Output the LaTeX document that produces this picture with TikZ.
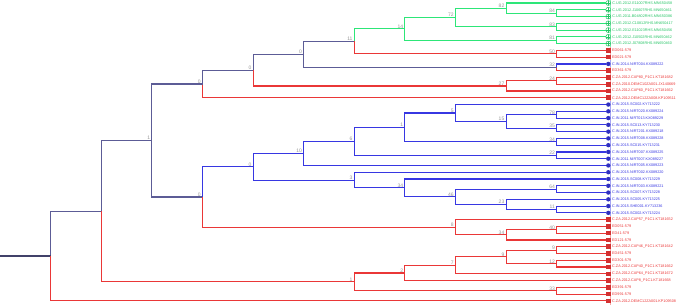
\documentclass[tikz,border=0pt]{standalone}
\usepackage{fontspec}
\setsansfont{Liberation Sans}
\definecolor{CladoVerde}{RGB}{45,230,120}
\definecolor{CladoRojo}{RGB}{234,55,55}
\definecolor{CladoAzul}{RGB}{55,55,226}
\definecolor{CladoMixto}{RGB}{92,92,150}
\definecolor{Soporte}{RGB}{150,150,150}

\begin{document}
\begin{tikzpicture}[
        x=1pt, y=-1pt,
        rama/.style={line width=1.15pt},
        guia/.style={line width=0.9pt},
        soporte/.style={font=\sffamily\fontsize{5}{5.5}\selectfont, text=Soporte, inner sep=0.4pt, xshift=-1.2pt},
        interno/.style={coordinate, label={[soporte]above left:#1}},
        hoja/.style={font=\sffamily\fontsize{3.75}{4}\selectfont, inner sep=1.2pt},
        hojaverde/.style={
            circle, draw=CladoVerde!85!black, fill=white, line width=0.5pt,
            minimum size=5pt, inner sep=0pt,
            path picture={\draw[CladoVerde!85!black, line width=0.5pt]
                (path picture bounding box.north) -- (path picture bounding box.south)
                (path picture bounding box.west) -- (path picture bounding box.east);},
            label={[hoja, text=CladoVerde!85!black]right:#1}
        },
        hojaazul/.style={circle, fill=CladoAzul!85!black, minimum size=4.4pt, inner sep=0pt,
            label={[hoja, text=CladoAzul]right:#1}},
        hojaroja/.style={rectangle, fill=CladoRojo!90!black, minimum size=4.6pt, inner sep=0pt,
            label={[hoja, text=CladoRojo]right:#1}}
    ]
    \useasboundingbox (0,0) rectangle (677,305);

    % Barras de las puntas
    \draw[guia, CladoVerde!55] (610.7,0) -- (610.7,47);
    \draw[guia, CladoRojo!45] (610.7,47) -- (610.7,60.5);
    \draw[guia, CladoAzul!45] (610.7,60.5) -- (610.7,67.3);
    \draw[guia, CladoRojo!45] (610.7,67.3) -- (610.7,101.2);
    \draw[guia, CladoAzul!45] (610.7,101.2) -- (610.7,216.3);
    \draw[guia, CladoRojo!45] (610.7,216.3) -- (610.7,305);

    % Hojas
    \node[hojaverde={C.UG.2012.E11007RHS.MN650458}] (l1) at (608.3,3.00) {};
    \node[hojaverde={C.UG.2012.J10607RHS.MN650461}] (l2) at (608.3,9.77) {};
    \node[hojaverde={C.UG.2011.B04802RHS.MN650386}] (l3) at (608.3,16.54) {};
    \node[hojaverde={C.UG.2012.C10812RHS.MN650417}] (l4) at (608.3,23.31) {};
    \node[hojaverde={C.UG.2012.E11023RHS.MN650456}] (l5) at (608.3,30.08) {};
    \node[hojaverde={C.UG.2012.J10502RHS.MN650462}] (l6) at (608.3,36.85) {};
    \node[hojaverde={C.UG.2012.J07808RHS.MN650460}] (l7) at (608.3,43.62) {};
    \node[hojaroja={ED061-579}] (l8) at (608.3,50.39) {};
    \node[hojaroja={ED021-579}] (l9) at (608.3,57.16) {};
    \node[hojaazul={C.IN.2014.NIRT004.KX089222}] (l10) at (608.3,63.93) {};
    \node[hojaroja={ED361-579}] (l11) at (608.3,70.70) {};
    \node[hojaroja={C.ZA.2012.CAP80\_P1C1.KT181682}] (l12) at (608.3,77.47) {};
    \node[hojaroja={C.ZA.2010.DEMC10ZA001.JX140669}] (l13) at (608.3,84.24) {};
    \node[hojaroja={C.ZA.2012.CAP60\_P1C1.KT181662}] (l14) at (608.3,91.01) {};
    \node[hojaroja={C.ZA.2012.DEMC12ZA008.KP109511}] (l15) at (608.3,97.78) {};
    \node[hojaazul={C.IN.2015.SC002.KY713222}] (l16) at (608.3,104.55) {};
    \node[hojaazul={C.IN.2015.NIRT020.KX089224}] (l17) at (608.3,111.32) {};
    \node[hojaazul={C.IN.2011.NIRT013.KX089229}] (l18) at (608.3,118.09) {};
    \node[hojaazul={C.IN.2015.SC013.KY713230}] (l19) at (608.3,124.86) {};
    \node[hojaazul={C.IN.2015.NIRT201.KX089218}] (l20) at (608.3,131.63) {};
    \node[hojaazul={C.IN.2015.NIRT008.KX089228}] (l21) at (608.3,138.40) {};
    \node[hojaazul={C.IN.2015.SC015.KY713231}] (l22) at (608.3,145.17) {};
    \node[hojaazul={C.IN.2015.NIRT007.KX089225}] (l23) at (608.3,151.94) {};
    \node[hojaazul={C.IN.2011.NIRT007.KX089227}] (l24) at (608.3,158.71) {};
    \node[hojaazul={C.IN.2015.NIRT005.KX089223}] (l25) at (608.3,165.48) {};
    \node[hojaazul={C.IN.2015.NIRT002.KX089220}] (l26) at (608.3,172.25) {};
    \node[hojaazul={C.IN.2015.SC008.KY713229}] (l27) at (608.3,179.02) {};
    \node[hojaazul={C.IN.2015.NIRT003.KX089221}] (l28) at (608.3,185.79) {};
    \node[hojaazul={C.IN.2015.SC007.KY713228}] (l29) at (608.3,192.56) {};
    \node[hojaazul={C.IN.2015.SC005.KY713225}] (l30) at (608.3,199.33) {};
    \node[hojaazul={C.IN.2015.SHE001.KY713236}] (l31) at (608.3,206.10) {};
    \node[hojaazul={C.IN.2015.SC002.KY713224}] (l32) at (608.3,212.87) {};
    \node[hojaroja={C.ZA.2012.CAP57\_P1C1.KT181652}] (l33) at (608.3,219.64) {};
    \node[hojaroja={ED051-579}] (l34) at (608.3,226.41) {};
    \node[hojaroja={ED41-579}] (l35) at (608.3,233.18) {};
    \node[hojaroja={ED121-579}] (l36) at (608.3,239.95) {};
    \node[hojaroja={C.ZA.2012.CAP46\_P1C1.KT181642}] (l37) at (608.3,246.72) {};
    \node[hojaroja={ED451-579}] (l38) at (608.3,253.49) {};
    \node[hojaroja={ED301-579}] (l39) at (608.3,260.26) {};
    \node[hojaroja={C.ZA.2012.CAP40\_P1C1.KT181662}] (l40) at (608.3,267.03) {};
    \node[hojaroja={C.ZA.2012.CAP64\_P1C1.KT181672}] (l41) at (608.3,273.80) {};
    \node[hojaroja={C.ZA.2012.CAP8\_P1C1.KT181668}] (l42) at (608.3,280.57) {};
    \node[hojaroja={ED391-579}] (l43) at (608.3,287.34) {};
    \node[hojaroja={ED991-579}] (l44) at (608.3,294.11) {};
    \node[hojaroja={C.ZA.2012.DEMC12ZA001.KP109508}] (l45) at (608.3,300.88) {};

    % Nodos internos
    \node[interno=84] (n84) at (556.7,13.155) {};
    \node[interno=83] (n83) at (556.7,26.695) {};
    \node[interno=81] (n81) at (556.7,40.235) {};
    \node[interno=50] (n50) at (556.7,53.775) {};
    \node[interno=32] (n32) at (556.7,67.315) {};
    \node[interno=24] (n24) at (556.7,80.855) {};
    \node[interno=78] (n78) at (556.7,114.705) {};
    \node[interno=35] (n35) at (556.7,128.245) {};
    \node[interno=34] (n34a) at (556.7,141.785) {};
    \node[interno=22] (n22) at (556.7,155.325) {};
    \node[interno=64] (n64) at (556.7,189.175) {};
    \node[interno=11] (n11b) at (556.7,209.485) {};
    \node[interno=40] (n40) at (556.7,229.795) {};
    \node[interno=9] (n9a) at (556.7,250.105) {};
    \node[interno=12] (n12) at (556.7,263.645) {};
    \node[interno=33] (n33) at (556.7,290.725) {};

    \node[interno=82] (n82) at (506.1,8.078) {};
    \node[interno=27] (n27) at (506.1,85.933) {};
    \node[interno=15] (n15) at (506.1,121.475) {};
    \node[interno=23] (n23) at (506.1,204.408) {};
    \node[interno=34] (n34c) at (506.1,234.873) {};
    \node[interno=9] (n9b) at (506.1,256.875) {};

    \node[interno=72] (n72) at (455.5,17.386) {};
    \node[interno=5] (n5) at (455.5,113.013) {};
    \node[interno=46] (n46) at (455.5,196.791) {};
    \node[interno=8] (n8) at (455.5,227.256) {};
    \node[interno=7] (n7) at (455.5,265.338) {};

    \node[interno=14] (n14) at (404.9,28.811) {};
    \node[interno=1] (n1c) at (404.9,127.399) {};
    \node[interno=34] (n34b) at (404.9,187.906) {};
    \node[interno=2] (n2) at (404.9,272.954) {};

    \node[interno=11] (n11a) at (354.3,41.293) {};
    \node[interno=6] (n6) at (354.3,141.362) {};
    \node[interno=3] (n3) at (354.3,180.078) {};
    \node[interno=1] (n1d) at (354.3,281.840) {};

    \node[interno=0] (n0a) at (303.7,54.304) {};
    \node[interno=10] (n10) at (303.7,153.421) {};

    \node[interno=0] (n0b) at (253.1,70.119) {};
    \node[interno=0] (n0c) at (253.1,166.750) {};

    \node[interno=0] (n0d) at (202.5,83.950) {};
    \node[interno=0] (n0e) at (202.5,197.003) {};

    \node[interno=1] (n1a) at (151.9,140.477) {};
    \coordinate (nb) at (101.3,211.159);
    \coordinate (raiz) at (50.7,256.02);
    \coordinate (base) at (0,256.02);

    % Ramas verdes
    \draw[rama, CladoVerde] (n82) |- (l1) (n82) |- (n84) (n84) |- (l2) (n84) |- (l3);
    \draw[rama, CladoVerde] (n72) |- (n82) (n72) |- (n83) (n83) |- (l4) (n83) |- (l5);
    \draw[rama, CladoVerde] (n14) |- (n72) (n14) |- (n81) (n81) |- (l6) (n81) |- (l7);
    \draw[rama, CladoVerde] (n11a) |- (n14);

    % Ramas rojas de arriba
    \draw[rama, CladoRojo] (n11a) |- (n50) (n50) |- (l8) (n50) |- (l9);
    \draw[rama, CladoRojo] (n32) |- (l11);
    \draw[rama, CladoRojo] (n24) |- (l12) (n24) |- (l13) (n27) |- (n24) (n27) |- (l14);
    \draw[rama, CladoRojo] (n0b) |- (n27) (n0d) |- (l15);
    \draw[rama, CladoAzul] (n32) |- (l10);

    % Ramas mixtas
    \draw[rama, CladoMixto] (n0a) |- (n11a) (n0a) |- (n32) (n0b) |- (n0a) (n0d) |- (n0b);
    \draw[rama, CladoMixto] (n1a) |- (n0d) (n1a) |- (n0e) (nb) |- (n1a) (raiz) |- (nb);
    \draw[rama, CladoMixto!70!black] (base) -- (raiz);

    % Ramas azules
    \draw[rama, CladoAzul] (n78) |- (l17) (n78) |- (l18) (n35) |- (l19) (n35) |- (l20);
    \draw[rama, CladoAzul] (n15) |- (n78) (n15) |- (n35) (n5) |- (l16) (n5) |- (n15);
    \draw[rama, CladoAzul] (n34a) |- (l21) (n34a) |- (l22) (n1c) |- (n5) (n1c) |- (n34a);
    \draw[rama, CladoAzul] (n22) |- (l23) (n22) |- (l24) (n6) |- (n1c) (n6) |- (n22);
    \draw[rama, CladoAzul] (n10) |- (n6) (n10) |- (l25);
    \draw[rama, CladoAzul] (n64) |- (l28) (n64) |- (l29) (n11b) |- (l31) (n11b) |- (l32);
    \draw[rama, CladoAzul] (n23) |- (l30) (n23) |- (n11b) (n46) |- (n64) (n46) |- (n23);
    \draw[rama, CladoAzul] (n34b) |- (l27) (n34b) |- (n46) (n3) |- (l26) (n3) |- (n34b);
    \draw[rama, CladoAzul] (n0c) |- (n10) (n0c) |- (n3) (n0e) |- (n0c);

    % Ramas rojas de abajo
    \draw[rama, CladoRojo] (n0e) |- (n8) (n8) |- (l33) (n8) |- (n34c);
    \draw[rama, CladoRojo] (n34c) |- (n40) (n34c) |- (l36) (n40) |- (l34) (n40) |- (l35);
    \draw[rama, CladoRojo] (n9a) |- (l37) (n9a) |- (l38) (n12) |- (l39) (n12) |- (l40);
    \draw[rama, CladoRojo] (n9b) |- (n9a) (n9b) |- (n12) (n7) |- (n9b) (n7) |- (l41);
    \draw[rama, CladoRojo] (n2) |- (n7) (n2) |- (l42) (n33) |- (l43) (n33) |- (l44);
    \draw[rama, CladoRojo] (n1d) |- (n2) (n1d) |- (n33) (nb) |- (n1d) (raiz) |- (l45);

\end{tikzpicture}
\end{document}
